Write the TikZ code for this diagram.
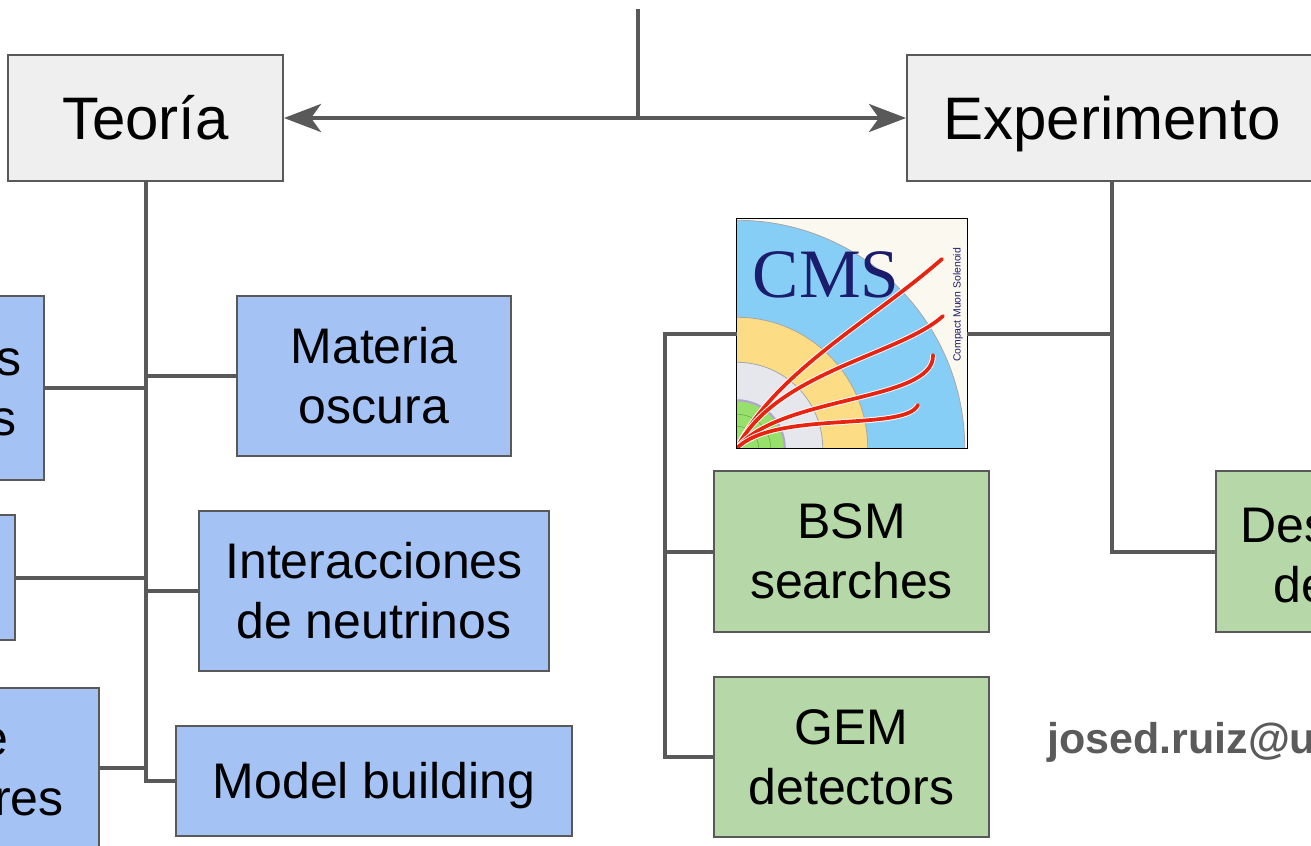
\documentclass[tikz,border=0pt]{standalone}
\usepackage{fontspec}
\setmainfont{Liberation Sans}
\newfontfamily\logoserif{Liberation Serif}
\usetikzlibrary{arrows.meta}

\definecolor{linegray}{HTML}{595959}
\definecolor{boxgray}{HTML}{EFEFEF}
\definecolor{boxblue}{HTML}{A4C2F4}
\definecolor{boxgreen}{HTML}{B6D7A8}
\definecolor{mailgray}{HTML}{5B5B5B}
% CMS logo palette
\definecolor{cmscream}{HTML}{FBF8F0}
\definecolor{cmsblue}{HTML}{87CEF7}
\definecolor{cmsyellow}{HTML}{FDDC86}
\definecolor{cmsgray}{HTML}{E5E7EC}
\definecolor{cmsgreen}{HTML}{98E06C}
\definecolor{cmsdkgreen}{HTML}{6FB04A}
\definecolor{cmspurple}{HTML}{B2A4CE}
\definecolor{cmsring}{HTML}{A6A6A6}
\definecolor{cmsred}{HTML}{E8230F}
\definecolor{cmsnavy}{HTML}{1B1C6C}

\begin{document}
\begin{tikzpicture}[x=0.75pt,y=-0.75pt,
  headtip/.tip={Stealth[length=27.75pt,width=21pt,inset=7.5pt]},
  conn/.style={draw=linegray, line width=3pt},
  box/.style={draw=linegray, line width=1.5pt, inner sep=0pt, align=center},
  headbox/.style={box, fill=boxgray, font=\fontsize{45}{54}\selectfont,
    text height=32.2pt, text depth=0pt},
  theorybox/.style={box, fill=boxblue, font=\fontsize{37.5}{45}\selectfont},
  expbox/.style={box, fill=boxgreen, font=\fontsize{37.5}{45}\selectfont},
  oneline/.style={text height=26.85pt, text depth=0pt},
  frag/.style={font=\fontsize{37.5}{45}\selectfont, inner sep=0pt},
  track/.style={cmsred, line width=2.8pt, line cap=round,
    preaction={draw=white, line width=4.2pt}},
]
\useasboundingbox (0,0) rectangle (1311,846);
\fill[white] (0,0) rectangle (1311,846);
\clip (0,0) rectangle (1311,846);

% top-level boxes
\node[headbox, minimum width=206.25pt, minimum height=94.5pt] (teoria) at (145.5,118) {Teoría};
\node[headbox, minimum width=307.5pt, minimum height=94.5pt] (exper) at (1112,118) {Experimento};

% theory branch
\node[theorybox, minimum width=205.5pt, minimum height=120pt] (materia) at (374,376) {Materia\\oscura};
\node[theorybox, minimum width=262.5pt, minimum height=120pt] (inter) at (374,591) {Interacciones\\de neutrinos};
\node[theorybox, oneline, minimum width=297pt, minimum height=82.5pt] (model) at (374,781) {Model building};
\node[theorybox, minimum width=206.25pt, minimum height=138pt] (leftA) at (-93.5,388) {};
\node[theorybox, minimum width=206.25pt, minimum height=93.75pt] (leftB) at (-122.5,577.5) {};
\node[theorybox, minimum width=206.25pt, minimum height=120pt] (leftC) at (-38.5,768) {};
\node[frag, anchor=base east] (leftAa) at (22,375) {s};
\node[frag, anchor=base east] (leftAb) at (17,435) {s};
\node[frag, anchor=base east] (leftCa) at (9,755) {e};
\node[frag, anchor=base east] (leftCb) at (64,815) {res};

% experiment branch
\node[expbox, minimum width=206.25pt, minimum height=120.75pt] (bsm) at (851.5,551.5) {BSM\\searches};
\node[expbox, minimum width=206.25pt, minimum height=120pt] (gem) at (851.5,757) {GEM\\detectors};
\node[expbox, minimum width=206.25pt, minimum height=120.75pt] (desa) at (1353.5,551.5) {};
\node[frag, anchor=base west] (desaa) at (1240,542) {Des};
\node[frag, anchor=base west] (desab) at (1273,602) {de};

% CMS logo
\node[minimum width=172.5pt, minimum height=171.75pt, inner sep=0pt] (cms) at (852,333.5) {};
\begin{scope}
  \clip (cms.south west) rectangle (cms.north east);
  \fill[cmscream] (cms.south west) rectangle (cms.north east);
  \coordinate (o) at (cms.south west);
  \filldraw[fill=cmsblue, draw=cmsring, line width=0.6pt] (o) circle[radius=171pt];
  \filldraw[fill=cmsyellow, draw=cmsring, line width=0.6pt] (o) circle[radius=98.25pt];
  \filldraw[fill=cmsgray, draw=cmsring, line width=0.6pt] (o) circle[radius=64.5pt];
  \filldraw[fill=cmsgreen, draw=cmspurple, line width=1.6pt] (o) circle[radius=36pt];
  \draw[cmsdkgreen, line width=0.5pt] (o) circle[radius=25.5pt] (o) circle[radius=16.5pt];
  \node[font=\logoserif\fontsize{52}{52}\selectfont, text=cmsnavy, anchor=base, inner sep=0pt]
    (cmsword) at (826,297) {CMS};
  \node[rotate=90, font=\fontsize{7.8}{8}\selectfont, text=cmsnavy, inner sep=0pt]
    (cmssub) at (958,305) {Compact Muon Solenoid};
  \draw[track] (o) .. controls (775,372) and (870,322) .. (942,259);
  \draw[track] (o) .. controls (775,372) and (900,355) .. (943,316);
  \draw[track] (o) .. controls (780,395) and (935,402) .. (933,355);
  \draw[track] (o) .. controls (775,410) and (905,432) .. (918,405);
\end{scope}
\draw[black, line width=0.9pt] (cms.south west) rectangle (cms.north east);

% contact
\node[anchor=base west, inner sep=0pt, text=mailgray, font=\bfseries\fontsize{32.25}{38}\selectfont]
  (email) at (1047,753) {josed.ruiz@u};

% connectors
\coordinate (feed) at (638,9);
\draw[conn] (feed) -- (feed |- teoria.east);
\draw[conn, headtip-headtip] (teoria.east) -- (exper.west);

\draw[conn] (teoria.south) |- (model.west);
\draw[conn] (materia.west) -- (materia.west -| teoria.south);
\draw[conn] (inter.west) -- (inter.west -| teoria.south);
\draw[conn] (leftA.east) -- (leftA.east -| teoria.south);
\draw[conn] (leftB.east) -- (leftB.east -| teoria.south);
\draw[conn] (leftC.east) -- (leftC.east -| teoria.south);

\draw[conn] (exper.south) |- (desa.west);
\draw[conn] (cms.east) -- (cms.east -| exper.south);
\coordinate (ltrunk) at (665,333.5);
\draw[conn] (cms.west) -- (ltrunk) |- (gem.west);
\draw[conn] (bsm.west) -- (bsm.west -| ltrunk);
\end{tikzpicture}
\end{document}
